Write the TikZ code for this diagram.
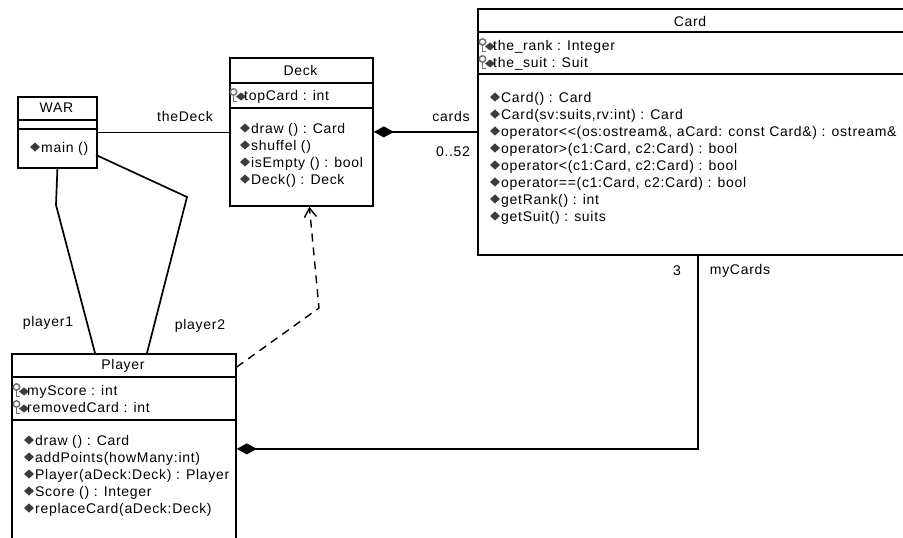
\documentclass[tikz,border=0pt]{standalone}
\usepackage{fontspec}
\setmainfont[LetterSpace=5]{Liberation Sans}
\usetikzlibrary{arrows.meta}

\definecolor{opgray}{RGB}{60,60,60}
\definecolor{keygray}{RGB}{115,115,115}

% small icons in front of the members
\newcommand{\opicon}[2]{\fill[opgray] (#1,#2) +(-5,0) -- +(0,-4.5) -- +(5,0) -- +(0,4.5) -- cycle;}
\newcommand{\attricon}[2]{%
  \draw[keygray, line width=1.5pt] (#1-3.5,#2-3) circle (3.2);
  \draw[keygray, line width=1.6pt] (#1-3.5,#2) -- (#1-3.5,#2+6.5) -- (#1-0.5,#2+6.5);
  \fill[opgray] (#1+4,#2+1.5) +(-5,0) -- +(0,-4) -- +(5,0) -- +(0,4) -- cycle;}

\begin{document}
\begin{tikzpicture}[
			x=1pt, y=-1pt,
			umlbox/.style={
				rectangle,
				draw,
				line width=1.8pt,
				anchor=north west,
				inner sep=0pt,
			},
			title/.style={
				font=\fontsize{14}{16}\selectfont,
				inner sep=0pt,
			},
			member/.style={
				anchor=base west,
				font=\fontsize{14}{16}\selectfont,
				inner sep=0pt,
			},
			role/.style={
				font=\fontsize{14}{16}\selectfont,
				inner sep=0pt,
			},
			link/.style={
				draw,
				line width=1.7pt,
			},
			composition/.style={
				link,
				{Diamond[length=20pt,width=11pt]}-,
			},
			dependency/.style={
				draw,
				line width=1.4pt,
				dash pattern=on 8pt off 6pt,
				-{Straight Barb[length=9pt,width=12pt,line width=1.4pt]},
			}]
		\useasboundingbox (0,0) rectangle (903,538);

		% classes
		\node[umlbox, minimum width=79, minimum height=71] (war) at (17,96) {};
		\node[umlbox, minimum width=143, minimum height=148] (deck) at (229,57) {};
		\node[umlbox, minimum width=440, minimum height=246] (card) at (477,8) {};
		\node[umlbox, minimum width=224, minimum height=190] (player) at (11,353) {};

		% WAR
		\node[title] (war-title) at (56.5,108) {WAR};
		\draw[line width=1.8pt] (17,120) -- (96,120);
		\draw[line width=1.8pt] (17,129) -- (96,129);
		\opicon{35}{147}
		\node[member] (war-op-0) at (41,152) {main ()};

		% Deck
		\node[title] (deck-title) at (300.5,70) {Deck};
		\draw[line width=1.8pt] (229,83) -- (372,83);
		\draw[line width=1.8pt] (229,108) -- (372,108);
		\attricon{237}{95}
		\node[member] (deck-attr-0) at (244,100) {topCard : int};
		\foreach \txt [count=\i from 0] in {draw () : Card, shuffel (), isEmpty () : bool, Deck() : Deck}{
			\opicon{245}{128+17*\i}
			\node[member] (deck-op-\i) at (251,133+17*\i) {\txt};
		}

		% Card
		\node[title] (card-title) at (690,21) {Card};
		\draw[line width=1.8pt] (477,32) -- (910,32);
		\draw[line width=1.8pt] (477,74) -- (910,74);
		\foreach \txt [count=\i from 0] in {the\_rank : Integer, the\_suit : Suit}{
			\attricon{486}{45+17*\i}
			\node[member] (card-attr-\i) at (493,50+17*\i) {\txt};
		}
		\foreach \txt [count=\i from 0] in {Card() : Card, {Card(sv:suits,rv:int) : Card},
				{operator<{}<(os:ostream\&, aCard: const Card\&) : ostream\&},
				{operator>(c1:Card, c2:Card) : bool}, {operator<(c1:Card, c2:Card) : bool},
				{operator==(c1:Card, c2:Card) : bool}, getRank() : int, getSuit() : suits}{
			\opicon{495}{97+17*\i}
			\node[member] (card-op-\i) at (501,102+17*\i) {\txt};
		}

		% Player
		\node[title] (player-title) at (123,366) {Player};
		\draw[line width=1.8pt] (11,377) -- (235,377);
		\draw[line width=1.8pt] (11,420) -- (235,420);
		\foreach \txt [count=\i from 0] in {myScore : int, removedCard : int}{
			\attricon{20}{390+17*\i}
			\node[member] (player-attr-\i) at (27,395+17*\i) {\txt};
		}
		\foreach \txt [count=\i from 0] in {draw () : Card, addPoints(howMany:int),
				Player(aDeck:Deck) : Player, Score () : Integer, replaceCard(aDeck:Deck)}{
			\opicon{29}{440+17*\i}
			\node[member] (player-op-\i) at (35,445+17*\i) {\txt};
		}

		% associations
		\path[link] (war.east) -- (war.east -| deck.west);
		\node[role] (thedeck) at (185,116) {theDeck};

		\path[composition] (deck.east) -- (deck.east -| card.west);
		\node[role] (cards) at (451,116) {cards};
		\node[role] (cards-mult) at (453,152) {0..52};

		\coordinate (p1-bend) at (56,205);
		\path[link] (war.south) -- (p1-bend) -- (95,353);
		\node[role] (player1) at (48,323) {player1};

		\coordinate (p2-bend) at (187,197);
		\path[link] (96,155) -- (p2-bend) -- (147,353);
		\node[role] (player2) at (200,326) {player2};

		\coordinate (dep-bend) at (319,308);
		\path[dependency] ([yshift=-14pt]player.north east) -- (dep-bend) -- ([xshift=8pt]deck.south);

		\path[composition] (player.east) -- (card.south |- player.east) -- (card.south);
		\node[role] (mycards-mult) at (677,271) {3};
		\node[role] (mycards) at (740,271) {myCards};
	\end{tikzpicture}
\end{document}
